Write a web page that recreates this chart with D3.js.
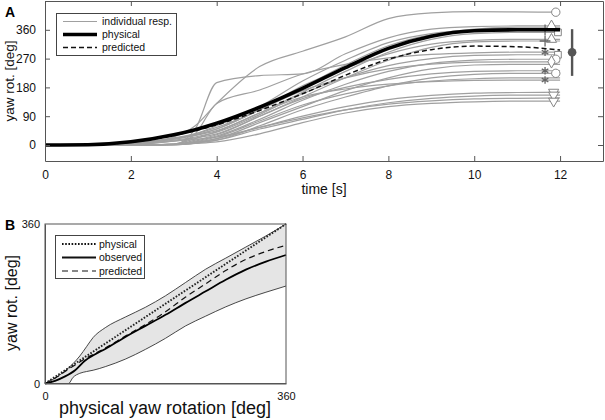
<!DOCTYPE html>
<html><head><meta charset="utf-8">
<script src="https://cdn.jsdelivr.net/npm/d3@7"></script>
<style>
html,body{margin:0;padding:0;background:#fff;}
svg{display:block;font-family:"Liberation Sans",Arial,Helvetica,sans-serif;}
</style></head>
<body><svg id="c" width="605" height="420"></svg>
<script>
// ---------- Panel A data ----------
const timesA = [0, 1, 2, 3, 3.5, 4, 5, 6, 7, 8, 9, 10, 11, 12];
const physicalA = [0, 1, 10, 32, 48, 68, 118, 177, 242, 302, 340, 357, 360, 360];
const predictedA = [0, 1, 9, 30, 45, 63, 108, 160, 218, 268, 298, 309, 307, 297];
const individualA = [
  [0,0,3,25,60,130,245,293,338,395,413,417,416,415],
  [0,0,0,2,50,195,217,222,285,335,362,370,372,372],
  [0,0,5,22,35,55,110,180,250,310,345,362,368,368],
  [0,0,4,20,35,60,120,200,265,320,348,358,360,360],
  [0,0,0,3,20,42,100,165,230,290,330,348,352,352],
  [0,0,3,18,30,50,110,185,240,285,315,327,330,330],
  [0,0,0,2,15,32,90,150,210,265,305,322,325,325],
  [0,0,0,3,35,130,172,222,252,272,283,288,290,290],
  [0,0,2,15,25,40,95,160,210,248,270,280,282,282],
  [0,0,0,2,12,28,80,140,190,230,255,265,268,268],
  [0,0,3,20,32,50,110,170,210,238,253,259,260,260],
  [0,0,0,1,8,20,70,120,170,210,238,250,252,252],
  [0,0,2,12,22,35,90,145,180,205,222,230,232,232],
  [0,0,0,1,6,15,60,110,150,185,210,221,224,224],
  [0,0,0,2,10,25,75,125,160,185,200,207,210,210],
  [0,0,3,20,30,45,100,150,175,190,198,202,203,203],
  [0,0,0,1,8,20,55,90,120,142,155,162,164,165],
  [0,0,0,1,6,15,50,80,110,132,146,153,156,156],
  [0,0,2,12,18,25,55,85,110,128,138,144,146,147],
  [0,0,0,1,5,10,35,70,100,120,130,135,137,137]
];
const markerShapes = ["circle","triangle",null,"plus","square","triangle","plus","star","square","circle","diamond",null,"star","circle",null,"star","triDown","triDown",null,"triDown"];
const markerTimes  = [11.9,11.8,null,11.65,11.95,11.8,11.65,11.65,11.95,11.9,11.8,null,11.65,11.9,null,11.65,11.85,11.85,null,11.85];
const meanA = 290, lowA = 216, highA = 362, errTime = 12.28;
const xTicksA = [0, 2, 4, 6, 8, 10, 12];
const yTicksA = [0, 90, 180, 270, 360];
const legendA = ["individual resp.", "physical", "predicted"];

// ---------- Panel B data ----------
const physB = [0, 15, 30, 45, 60, 75, 90, 120, 150, 180, 210, 240, 270, 300, 330, 360];
const observedB = [0, 6, 16, 30, 52, 66, 78, 105, 130, 155, 182, 208, 234, 257, 275, 290];
const predictedB = [0, 12, 27, 42, 56, 68, 80, 107, 133, 162, 195, 225, 255, 280, 298, 312];
const bandX = [0, 20, 35, 42, 52, 62, 72, 90, 120, 150, 180, 210, 240, 270, 300, 330, 360];
const upperB = [0, 17, 35, 45, 62, 83, 104, 126, 150, 172, 198, 228, 258, 283, 308, 333, 360];
const lowerB = [0, 0, 0, 14, 23, 27, 30, 38, 55, 77, 102, 130, 152, 173, 191, 206, 220];
const ticksB = [0, 360];
const legendB = ["physical", "observed", "predicted"];

const svg = d3.select("#c");
const axisCol = "#555";

// ================= Panel A =================
const xA = d3.scaleLinear().domain([0, 13]).range([45, 603]);
const yA = d3.scaleLinear().domain([-50, 450]).range([161, 1]);
const gA = svg.append("g");

const lineA = (vals) => d3.line().x((d, i) => xA(timesA[i])).y(d => yA(d)).curve(d3.curveMonotoneX)(vals);

individualA.forEach(s => {
  gA.append("path").attr("d", lineA(s)).attr("fill", "none")
    .attr("stroke", "#a0a0a0").attr("stroke-width", 1.2);
});
const symMap = {
  circle: [d3.symbolCircle, 55], triangle: [d3.symbolTriangle, 45], square: [d3.symbolSquare, 45],
  diamond: [d3.symbolDiamond, 45], plus: [d3.symbolPlus, 40], star: [d3.symbolAsterisk, 40], triDown: [d3.symbolTriangle, 45]
};
individualA.forEach((s, i) => {
  const sh = markerShapes[i];
  if (!sh) return;
  const [type, size] = symMap[sh];
  const yv = s[s.length - 1];
  const g = gA.append("path").attr("d", d3.symbol().type(type).size(size)())
    .attr("transform", `translate(${xA(markerTimes[i])},${yA(yv)})${sh === "triDown" ? " rotate(180)" : ""}`);
  if (sh === "star" || sh === "plus") g.attr("fill", "none").attr("stroke", "#666").attr("stroke-width", 1.3);
  else g.attr("fill", "#fff").attr("stroke", "#858585").attr("stroke-width", 1);
});
gA.append("path").attr("d", lineA(predictedA)).attr("fill", "none")
  .attr("stroke", "#111").attr("stroke-width", 1.5).attr("stroke-dasharray", "5,3");
gA.append("path").attr("d", lineA(physicalA)).attr("fill", "none")
  .attr("stroke", "#000").attr("stroke-width", 3.6);
gA.append("line").attr("x1", xA(errTime)).attr("x2", xA(errTime)).attr("y1", yA(lowA)).attr("y2", yA(highA))
  .attr("stroke", "#555").attr("stroke-width", 2.4);
gA.append("circle").attr("cx", xA(errTime)).attr("cy", yA(meanA)).attr("r", 4.3).attr("fill", "#555");

const axB = gA.append("g").attr("transform", `translate(0,${yA.range()[0]})`)
  .call(d3.axisBottom(xA).tickValues(xTicksA).tickSizeInner(-5).tickSizeOuter(0).tickPadding(9));
const axT = gA.append("g").attr("transform", `translate(0,${yA.range()[1]})`)
  .call(d3.axisTop(xA).tickValues(xTicksA).tickSizeInner(-5).tickSizeOuter(0).tickFormat(""));
const axL = gA.append("g").attr("transform", `translate(${xA.range()[0]},0)`)
  .call(d3.axisLeft(yA).tickValues(yTicksA).tickSizeInner(-5).tickSizeOuter(0).tickPadding(9));
const axR = gA.append("g").attr("transform", `translate(${xA.range()[1]},0)`)
  .call(d3.axisRight(yA).tickValues(yTicksA).tickSizeInner(-5).tickSizeOuter(0).tickFormat(""));
[axB, axT, axL, axR].forEach(a => {
  a.select(".domain").attr("stroke", axisCol).attr("stroke-width", 1);
  a.selectAll(".tick line").attr("stroke", axisCol);
  a.selectAll("text").attr("font-size", 12).attr("fill", "#111").attr("font-family", null);
});
gA.append("text").attr("x", 324).attr("y", 194).attr("text-anchor", "middle")
  .attr("font-size", 14).attr("fill", "#111").text("time [s]");
gA.append("text").attr("transform", "translate(14,81) rotate(-90)").attr("text-anchor", "middle")
  .attr("font-size", 13.5).attr("fill", "#111").text("yaw rot. [deg]");
gA.append("text").attr("x", 5).attr("y", 17).attr("font-size", 14).attr("font-weight", "bold").text("A");

const legA = gA.append("g");
legA.append("rect").attr("x", 56.5).attr("y", 13.5).attr("width", 120).attr("height", 42)
  .attr("fill", "#fff").attr("stroke", "#444").attr("stroke-width", 1);
const legStylesA = [
  { stroke: "#a0a0a0", w: 1.2, dash: null },
  { stroke: "#000", w: 3.6, dash: null },
  { stroke: "#111", w: 1.5, dash: "5,3" }
];
legendA.forEach((t, i) => {
  const y = 21.5 + i * 13;
  legA.append("line").attr("x1", 63).attr("x2", 97).attr("y1", y).attr("y2", y)
    .attr("stroke", legStylesA[i].stroke).attr("stroke-width", legStylesA[i].w)
    .attr("stroke-dasharray", legStylesA[i].dash);
  legA.append("text").attr("x", 102).attr("y", y).attr("dy", "0.35em").attr("font-size", 10.5)
    .attr("fill", "#111").text(t);
});

// ================= Panel B =================
const xB = d3.scaleLinear().domain([0, 360]).range([45, 286]);
const yB = d3.scaleLinear().domain([0, 360]).range([383.5, 224]);
const gB = svg.append("g");

const area = d3.area().x((d, i) => xB(bandX[i])).y0((d, i) => yB(lowerB[i])).y1(d => yB(d)).curve(d3.curveMonotoneX);
gB.append("path").attr("d", area(upperB)).attr("fill", "#e5e5e5");
const lineBand = (vals) => d3.line().x((d, i) => xB(bandX[i])).y(d => yB(d)).curve(d3.curveMonotoneX)(vals);
gB.append("path").attr("d", lineBand(upperB)).attr("fill", "none").attr("stroke", "#333").attr("stroke-width", 0.9);
gB.append("path").attr("d", lineBand(lowerB)).attr("fill", "none").attr("stroke", "#333").attr("stroke-width", 0.9);

const lineB = (vals) => d3.line().x((d, i) => xB(physB[i])).y(d => yB(d)).curve(d3.curveMonotoneX)(vals);
gB.append("path").attr("d", lineB(predictedB)).attr("fill", "none").attr("stroke", "#111")
  .attr("stroke-width", 1.2).attr("stroke-dasharray", "6,4");
gB.append("path").attr("d", lineB(observedB)).attr("fill", "none").attr("stroke", "#000").attr("stroke-width", 1.8);
gB.append("path").attr("d", lineB(physB)).attr("fill", "none").attr("stroke", "#222")
  .attr("stroke-width", 1.9).attr("stroke-dasharray", "1.6,1.6");

const bxB = gB.append("g").attr("transform", `translate(0,${yB.range()[0]})`)
  .call(d3.axisBottom(xB).tickValues(ticksB).tickSize(0).tickPadding(9));
const byB = gB.append("g").attr("transform", `translate(${xB.range()[0]},0)`)
  .call(d3.axisLeft(yB).tickValues(ticksB).tickSize(0).tickPadding(5));
[bxB, byB].forEach(a => {
  a.select(".domain").attr("stroke", axisCol);
  a.selectAll("text").attr("font-size", 11).attr("fill", "#111").attr("font-family", null);
});
gB.append("rect").attr("x", xB.range()[0]).attr("y", yB.range()[1]).attr("width", xB.range()[1] - xB.range()[0])
  .attr("height", yB.range()[0] - yB.range()[1]).attr("fill", "none").attr("stroke", axisCol).attr("stroke-width", 1);
gB.append("text").attr("x", 165).attr("y", 414).attr("text-anchor", "middle")
  .attr("font-size", 18).attr("fill", "#111").text("physical yaw rotation [deg]");
gB.append("text").attr("transform", "translate(17,303) rotate(-90)").attr("text-anchor", "middle")
  .attr("font-size", 16).attr("fill", "#111").text("yaw rot. [deg]");
gB.append("text").attr("x", 5).attr("y", 230).attr("font-size", 14).attr("font-weight", "bold").text("B");

const legB = gB.append("g");
legB.append("rect").attr("x", 55.5).attr("y", 235.5).attr("width", 89).attr("height", 43)
  .attr("fill", "#fff").attr("stroke", "#444").attr("stroke-width", 1);
const legStylesB = [
  { w: 1.9, dash: "1.6,1.6" },
  { w: 1.8, dash: null },
  { w: 1.2, dash: "6,4" }
];
legendB.forEach((t, i) => {
  const y = 244 + i * 13.5;
  legB.append("line").attr("x1", 62).attr("x2", 96).attr("y1", y).attr("y2", y)
    .attr("stroke", "#111").attr("stroke-width", legStylesB[i].w).attr("stroke-dasharray", legStylesB[i].dash);
  legB.append("text").attr("x", 99).attr("y", y).attr("dy", "0.35em").attr("font-size", 10.5)
    .attr("fill", "#111").text(t);
});
</script></body></html>
